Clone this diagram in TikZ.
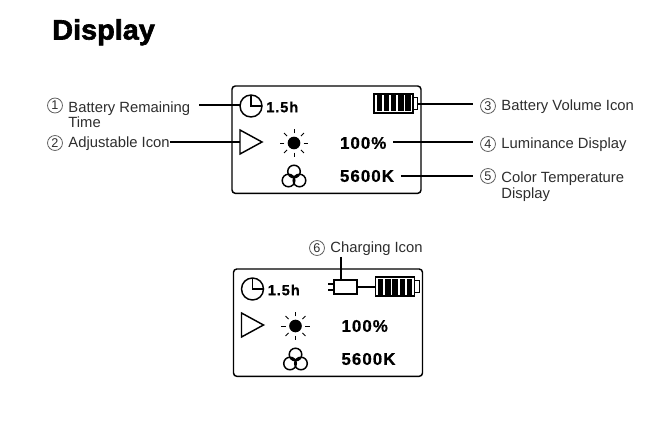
\documentclass[tikz,border=0pt]{standalone}
\usepackage{fontspec}
\setmainfont{Liberation Sans}
\newfontfamily\titlefont[FakeStretch=1.03,FakeBold=2.2]{Liberation Sans Bold}
\newfontfamily\valuefont[LetterSpace=6,FakeBold=0.6]{Liberation Sans Bold}
\usepackage{xcolor}
\usetikzlibrary{positioning}
\definecolor{mygray}{RGB}{45,45,45}
\definecolor{myring}{RGB}{95,95,95}
\tikzset{
  leader/.style={line width=1.1pt,black},
  icon/.style={line width=1.1pt,black},
  numring/.style={draw=myring,circle,line width=0.6pt,inner sep=0pt,minimum size=11.2pt,text=mygray,font=\fontsize{9.5}{10}\selectfont},
  caption/.style={inner sep=0pt,align=left,text=mygray,font=\fontsize{11.1}{11.3}\selectfont},
  readout/.style={anchor=west,inner xsep=5.25pt,inner ysep=0pt,outer sep=0pt,text=black,font=\fontsize{12.7}{13}\valuefont},
  panel/.pic={
    \node[draw,line width=1.1pt,rounded corners=2.5pt,minimum width=141.75pt,minimum height=80.5pt,anchor=north west,outer sep=0pt] (-frame) at (0,0) {};
    % clock
    \node[icon,draw,circle,minimum size=16.5pt,inner sep=0pt,outer sep=0pt] (-clock) at (19,20) {};
    \draw[icon] (-clock.north) -- (-clock.center) -- (-clock.east);
    \node[anchor=west,inner sep=0pt,font=\fontsize{11}{12}\valuefont] (-time) at (34,21) {1.5h};
    % triangle
    \draw[icon,line join=miter] (8,44) -- (8,68) -- (30,56) -- cycle;
    \coordinate (-tri) at (8,56);
    % sun
    \node[fill=black,circle,minimum size=9.5pt,inner sep=0pt] (-sun) at (62,57) {};
    \foreach \a in {0,45,...,315}
      \draw[line width=0.7pt] ([shift={(\a:7.3pt)}]-sun.center) -- ([shift={(\a:10.6pt)}]-sun.center);
    % colour circles
    \draw[icon] (62,85.5) circle (4.7pt) (56.5,94.5) circle (4.7pt) (67.5,94.5) circle (4.7pt);
    \node[readout] (-lum) at (101,57) {100\%};
    \node[readout] (-temp) at (101,90) {5600K};
    % battery
    \node[draw,line width=1.3pt,minimum width=29.2pt,minimum height=14.2pt,anchor=north west,inner sep=0pt,outer sep=0pt] (-batt) at (142,8) {};
    \node[draw,line width=0.9pt,minimum width=3.6pt,minimum height=9.5pt,anchor=west,inner sep=0pt,outer sep=0pt] (-nub) at (-batt.east) {};
    \foreach \x in {144.5,151.7,158.9,166.1,173.3}
      \fill (\x,9.5) rectangle ++(5.4,16);
  }
}
\begin{document}
\begin{tikzpicture}[x=0.75pt,y=-0.75pt]
  \useasboundingbox (0,0) rectangle (650,424);
  \node[anchor=base west,inner sep=0pt,font=\fontsize{21}{24}\titlefont] (title) at (52,39.5) {Display};
  \pic (one) at (232,86) {panel};
  \pic (two) at (233.5,269) {panel};
  % left captions
  \node[numring] (n1) at (55,105.5) {1};
  \node[caption,right=4pt of n1,yshift=-7pt] (lab1) {Battery Remaining\\Time};
  \node[numring] (n2) at (55,143) {2};
  \node[caption,right=4pt of n2,yshift=-0.8pt] (lab2) {Adjustable Icon};
  % right captions
  \node[numring] (n3) at (488,106) {3};
  \node[caption,right=4pt of n3,yshift=-0.4pt] (lab3) {Battery Volume Icon};
  \node[numring] (n4) at (488,144) {4};
  \node[caption,right=4pt of n4,yshift=-0.8pt] (lab4) {Luminance Display};
  \node[numring] (n5) at (488,176) {5};
  \node[caption,right=4pt of n5,yshift=-8pt] (lab5) {Color Temperature\\Display};
  \node[numring] (n6) at (317,248) {6};
  \node[caption,right=4pt of n6,yshift=-0.8pt] (lab6) {Charging Icon};
  % leaders
  \coordinate (c1) at (199,105);
  \coordinate (c3) at (473,104);
  \coordinate (c4) at (473,142);
  \coordinate (c5) at (473,176);
  \coordinate (c6) at (341,257);
  \draw[leader] (c1) -- (one-clock.west |- c1);
  \draw[leader] (lab2.east |- one-tri) -- (one-tri);
  \draw[leader] (one-nub.east |- c3) -- (c3);
  \draw[leader] (one-lum.east |- c4) -- (c4);
  \draw[leader] (one-temp.east) -- (c5);
  % charger
  \node[draw,line width=0.9pt,fill=white,minimum width=17.25pt,minimum height=10.5pt,inner sep=0pt,outer sep=0pt] (plug) at (345.5,287) {};
  \draw[line width=0.9pt] ([yshift=2.3pt]plug.west) -- ++(-4.5pt,0pt);
  \draw[line width=0.9pt] ([yshift=-2.3pt]plug.west) -- ++(-4.5pt,0pt);
  \draw[line width=0.9pt] (plug.east) -- (two-batt.west |- plug.east);
  \draw[leader] (c6) -- (c6 |- plug.north);
\end{tikzpicture}
\end{document}
